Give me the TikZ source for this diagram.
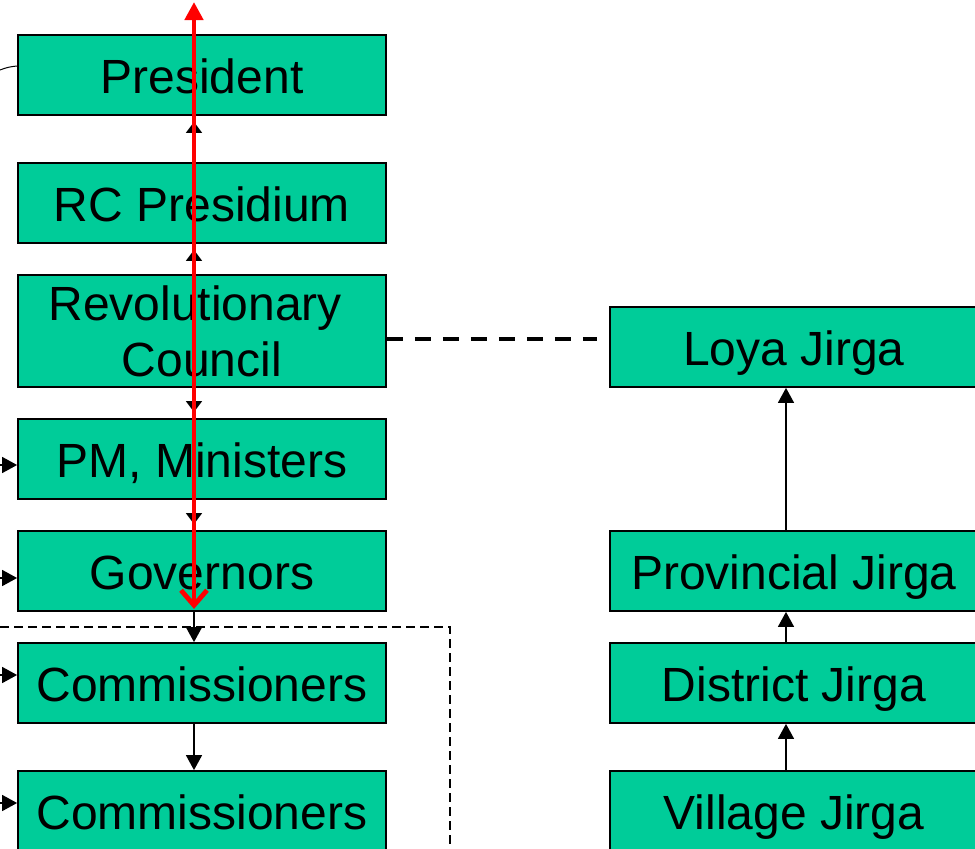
\documentclass[tikz,border=0pt]{standalone}
\usepackage{fontspec}
\setmainfont{Liberation Sans}
\usetikzlibrary{arrows.meta}
\definecolor{boxgreen}{RGB}{0,204,153}

\begin{document}
\begin{tikzpicture}[x=1pt, y=-1pt, line width=1.5pt,
	box/.style={rectangle, fill=boxgreen, draw=black, line width=1.8pt, minimum width=368pt, minimum height=80pt, inner sep=0pt, font=\fontsize{48}{56}\selectfont, text height=40pt, text depth=4pt},
	link/.style={-{Triangle[width=16pt,length=15pt]}, line width=1.5pt},
	shortlink/.style={-{Triangle[width=16pt,length=11pt]}, line width=1.5pt, shorten >=6pt},
	dashlink/.style={line width=4pt, dash pattern=on 16pt off 12pt},
	dashframe/.style={line width=1.4pt, dash pattern=on 9pt off 5pt}]
	\useasboundingbox (0,0) rectangle (975,849);

	% left column
	\node[box](pres) at (202,75){President};
	\node[box](rcp) at (202,203){RC Presidium};
	\node[box, minimum height=112pt, text height=, text depth=, align=center](rc) at (202,331){Revolutionary\kern.28em\\Council};
	\node[box](pm) at (202,459){PM, Ministers};
	\node[box](gov) at (202,571){Governors};
	\node[box](comm) at (202,683){Commissioners};
	\node[box](commtwo) at (202,811){Commissioners};

	% right column
	\node[box](loya) at (794,347){Loya Jirga};
	\node[box](prov) at (794,571){Provincial Jirga};
	\node[box](dist) at (794,683){District Jirga};
	\node[box](vill) at (794,811){Village Jirga};

	\coordinate (presin) at (0,70);
	\coordinate (pmin) at (0,465);
	\coordinate (govin) at (0,578);
	\coordinate (commin) at (0,675);
	\coordinate (commtwoin) at (0,803);
	\coordinate (framestart) at (0,627);
	\coordinate (framecorner) at (450,627);
	\coordinate (frameend) at (450,849);
	\coordinate (redtop) at (194,2);

	\draw [dashframe] (framestart) -- (framecorner) -- (frameend);
	\draw [line width=1pt] (presin) to[bend left=8] ([yshift=9pt]pres.west);

	\draw [shortlink] ([xshift=-8pt]rcp.north) -- ([xshift=-8pt]pres.south);
	\draw [shortlink] ([xshift=-8pt]rc.north) -- ([xshift=-8pt]rcp.south);
	\draw [shortlink] ([xshift=-8pt]rc.south) -- ([xshift=-8pt]pm.north);
	\draw [shortlink] ([xshift=-8pt]pm.south) -- ([xshift=-8pt]gov.north);
	\draw [link] ([xshift=-8pt]gov.south) -- ([xshift=-8pt]comm.north);
	\draw [link] ([xshift=-8pt]comm.south) -- ([xshift=-8pt]commtwo.north);

	\draw [link] (pmin) -- (pmin -| pm.west);
	\draw [link] (govin) -- (govin -| gov.west);
	\draw [link] (commin) -- (commin -| comm.west);
	\draw [link] (commtwoin) -- (commtwoin -| commtwo.west);

	\draw [link] ([xshift=-8pt]prov.north) -- ([xshift=-8pt]loya.south);
	\draw [link] ([xshift=-8pt]dist.north) -- ([xshift=-8pt]prov.south);
	\draw [link] ([xshift=-8pt]vill.north) -- ([xshift=-8pt]dist.south);

	\draw [dashlink] ([yshift=-8pt]rc.east) -- ([shift={(-12pt,8pt)}]loya.west);

	\draw [red, line width=4.8pt, {Triangle[width=18pt,length=18pt]}-{Straight Barb[length=15pt,width=26pt]}] (redtop) -- ([xshift=-8pt,yshift=3pt]gov.south);
\end{tikzpicture}
\end{document}
